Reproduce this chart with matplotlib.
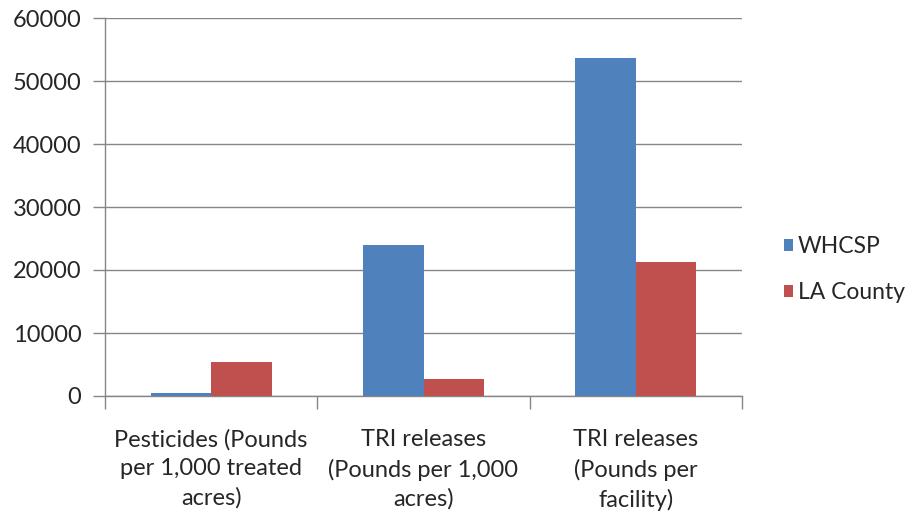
import matplotlib
matplotlib.use("Agg")
import matplotlib.pyplot as plt
import numpy as np

categories = ["Pesticides (Pounds\nper 1,000 treated\nacres)",
              "TRI releases\n(Pounds per 1,000\nacres)",
              "TRI releases\n(Pounds per\nfacility)"]
series_names = ["WHCSP", "LA County"]
whcsp = [520, 23950, 53650]
la_county = [5400, 2700, 21300]
y_ticks = [0, 10000, 20000, 30000, 40000, 50000, 60000]

colors = ["#4F81BD", "#C0504D"]
grid_color = "#868686"
text_color = "#262626"
fs = 17

plt.rcParams["font.family"] = ["Lato", "DejaVu Sans"]

fig = plt.figure(figsize=(9.16, 5.16), dpi=100)
ax = fig.add_axes([105 / 916, 1 - 396 / 516, (742 - 105) / 916, (396 - 18) / 516])

x = np.arange(len(categories))
w = 1 / 3.5
ax.bar(x - w / 2, whcsp, width=w, color=colors[0], label=series_names[0], zorder=3)
ax.bar(x + w / 2, la_county, width=w, color=colors[1], label=series_names[1], zorder=3)

ax.set_xlim(-0.5, len(categories) - 0.5)
ax.set_ylim(0, 60000)
ax.set_yticks(y_ticks)
ax.set_yticklabels([str(v) for v in y_ticks], fontsize=fs, color=text_color)
ax.yaxis.grid(True, color=grid_color, linewidth=1.0, zorder=0)

# category labels centered, ticks at boundaries
ax.set_xticks(x)
ax.set_xticklabels(categories, fontsize=fs, color=text_color, linespacing=1.45)
ax.tick_params(axis="x", length=0, pad=24)
ax.set_xticks(np.arange(len(categories) + 1) - 0.5, minor=True)
ax.tick_params(axis="x", which="minor", length=9, color=grid_color, width=1.0)
ax.tick_params(axis="y", length=9, color=grid_color, width=1.0, pad=8)

for side in ["top", "right"]:
    ax.spines[side].set_visible(False)
for side in ["left", "bottom"]:
    ax.spines[side].set_color(grid_color)
    ax.spines[side].set_linewidth(1.0)

leg = fig.legend(loc="upper left", bbox_to_anchor=(768 / 916, 1 - 220 / 516),
                 frameon=False, fontsize=16.5, handlelength=0.4, handleheight=0.4,
                 handletextpad=0.2, labelspacing=1.1, borderpad=0.2)
for t in leg.get_texts():
    t.set_color(text_color)

fig.savefig("out.png", dpi=100, facecolor="white")
